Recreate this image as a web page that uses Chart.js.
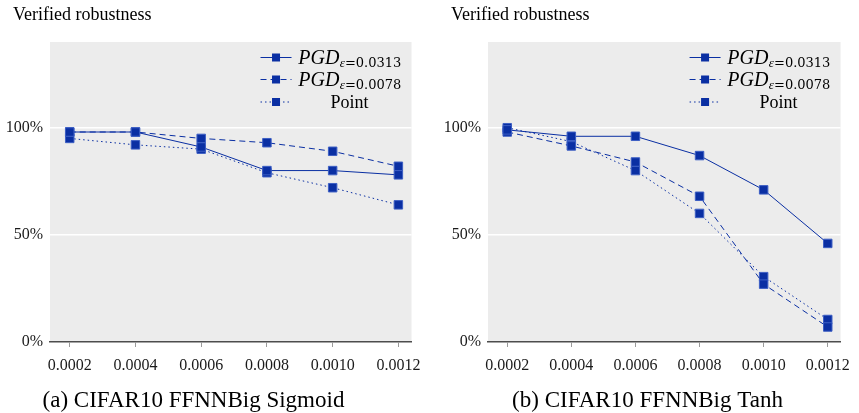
<!DOCTYPE html>
<html>
<head>
<meta charset="utf-8">
<script src="https://cdn.jsdelivr.net/npm/chart.js@4.4.0/dist/chart.umd.min.js"></script>
<style>
  body { margin: 0; background: #fff; }
  canvas { position: absolute; top: 0; }
</style>
</head>
<body>
<canvas id="sigmoid" width="430" height="413" style="left:0"></canvas>
<canvas id="tanh" width="429" height="413" style="left:430px"></canvas>
<script>
// perturbation sizes on the x axis
var epsilons = [0.0002, 0.0004, 0.0006, 0.0008, 0.0010, 0.0012];
var yTicks = [0, 50, 100];

// series names (main part + subscript)
var seriesNames = ['PGD', 'PGD', 'Point'];
var seriesSubs = ['\u03b5=0.0313', '\u03b5=0.0078', ''];

// (a) CIFAR10 FFNNBig Sigmoid, verified robustness in %
var sigmoidPgd0313 = [98, 98, 91, 80, 80, 78];
var sigmoidPgd0078 = [98, 98, 95, 93, 89, 82];
var sigmoidPoint   = [95, 92, 90, 79, 72, 64];

// (b) CIFAR10 FFNNBig Tanh
var tanhPgd0313 = [99, 96, 96, 87, 71, 46];
var tanhPgd0078 = [98, 91.5, 84, 68, 27, 7];
var tanhPoint   = [100, 93.5, 80, 60, 30.5, 10.5];

var blue = '#0a2fa3';
var serif = "'Liberation Serif', 'Times New Roman', serif";
var dashes = [[], [6, 4], [1.5, 3]];
var legendRows = [57.5, 79.5, 102];

var paperLook = {
  id: 'paperLook',
  beforeDraw: function(chart) {
    var a = chart.chartArea, ctx = chart.ctx;
    ctx.save();
    ctx.fillStyle = '#ececec';
    ctx.fillRect(a.left, a.top, a.right - a.left, a.bottom - a.top);
    ctx.restore();
  },
  afterDraw: function(chart) {
    var a = chart.chartArea, ctx = chart.ctx;
    var o = chart.options.plugins.paperLook;
    ctx.save();
    ctx.fillStyle = '#000';
    ctx.textBaseline = 'alphabetic';

    ctx.textAlign = 'left';
    ctx.font = '18px ' + serif;
    ctx.fillText('Verified robustness', a.left - 37, 19.5);

    ctx.textAlign = 'center';
    ctx.font = '23px ' + serif;
    ctx.fillText(o.caption, o.captionX, 407);

    // legend in the top right corner of the plot
    chart.data.datasets.forEach(function(ds, i) {
      var y = legendRows[i];
      var x0 = a.right - 151, x1 = a.right - 120;
      ctx.strokeStyle = blue;
      ctx.lineWidth = 1;
      ctx.setLineDash(ds.borderDash);
      ctx.beginPath();
      ctx.moveTo(x0, y);
      ctx.lineTo(x1, y);
      ctx.stroke();
      ctx.setLineDash([]);
      ctx.fillStyle = blue;
      ctx.fillRect((x0 + x1) / 2 - 4, y - 4, 8, 8);

      var cx = a.right - 62;
      ctx.fillStyle = '#000';
      ctx.textAlign = 'left';
      var sub = seriesSubs[i];
      if (sub) {
        ctx.font = 'italic 20px ' + serif;
        var w1 = ctx.measureText(seriesNames[i]).width;
        ctx.font = 'italic 13px ' + serif;
        var w2 = ctx.measureText(sub[0]).width;
        ctx.font = "13px 'DejaVu Serif', serif";
        var w3 = ctx.measureText(sub.slice(1)).width;
        var sx = cx - (w1 + w2 + w3) / 2;
        ctx.font = 'italic 20px ' + serif;
        ctx.fillText(seriesNames[i], sx, y + 6.5);
        ctx.font = 'italic 13px ' + serif;
        ctx.fillText(sub[0], sx + w1 + 0.5, y + 9);
        ctx.font = "13px 'DejaVu Serif', serif";
        ctx.fillText(sub.slice(1), sx + w1 + w2 + 0.5, y + 9);
      } else {
        ctx.font = '18px ' + serif;
        ctx.textAlign = 'center';
        ctx.fillText(seriesNames[i], cx, y + 6);
      }
    });
    ctx.restore();
  }
};

function makeChart(id, values, caption, captionX, yWidth, padRight) {
  var datasets = values.map(function(v, i) {
    return {
      label: seriesNames[i] + seriesSubs[i],
      data: epsilons.map(function(e, j) { return { x: e, y: v[j] }; }),
      borderColor: blue,
      borderWidth: 1,
      borderDash: dashes[i],
      pointStyle: 'rect',
      pointRadius: 6,
      pointBackgroundColor: blue,
      pointBorderColor: '#3d5fc4',
      pointBorderWidth: 1,
      tension: 0,
      fill: false
    };
  });

  new Chart(document.getElementById(id), {
    type: 'line',
    data: { datasets: datasets },
    options: {
      responsive: false,
      animation: false,
      devicePixelRatio: 1,
      layout: { padding: { top: 42, right: padRight, bottom: 37, left: 0 } },
      plugins: {
        legend: { display: false },
        tooltip: { enabled: false },
        paperLook: { caption: caption, captionX: captionX }
      },
      scales: {
        x: {
          type: 'linear',
          min: 0.00014,
          max: 0.00124,
          afterBuildTicks: function(s) { s.ticks = epsilons.map(function(v) { return { value: v }; }); },
          afterFit: function(s) { s.height = 34; },
          ticks: {
            callback: function(v) { return v.toFixed(4); },
            font: { family: serif, size: 16 },
            color: '#1a1a1a',
            padding: 9,
            maxRotation: 0,
            autoSkip: false
          },
          grid: { drawOnChartArea: false, tickLength: 5, color: '#9a9a9a' },
          border: { color: '#4d4d4d', width: 1.5 }
        },
        y: {
          min: 0,
          max: 140,
          afterBuildTicks: function(s) { s.ticks = yTicks.map(function(v) { return { value: v }; }); },
          afterFit: function(s) { s.width = yWidth; },
          ticks: {
            callback: function(v) { return v + '%'; },
            font: { family: serif, size: 16 },
            color: '#1a1a1a',
            padding: 7
          },
          grid: { color: '#ffffff', lineWidth: 1.5, drawTicks: false },
          border: { display: false }
        }
      }
    },
    plugins: [paperLook]
  });
}

makeChart('sigmoid', [sigmoidPgd0313, sigmoidPgd0078, sigmoidPoint],
  '(a) CIFAR10 FFNNBig Sigmoid', 193.5, 50, 17);
makeChart('tanh', [tanhPgd0313, tanhPgd0078, tanhPoint],
  '(b) CIFAR10 FFNNBig Tanh', 217.5, 58, 7);
</script>
</body>
</html>
